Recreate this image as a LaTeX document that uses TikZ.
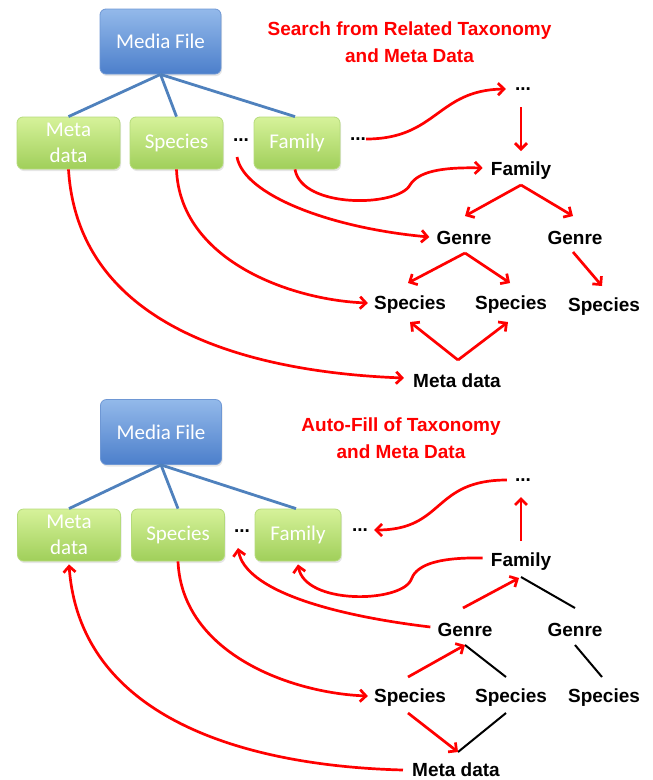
\documentclass[tikz,border=0pt]{standalone}
\usepackage{fontspec}
\setmainfont{Liberation Sans}
\newfontfamily\boxfont{Carlito}
\usetikzlibrary{arrows.meta,calc,shadows}
\definecolor{redc}{HTML}{FF0000}
\definecolor{blueT}{HTML}{93B9EA}
\definecolor{blueBot}{HTML}{4C7FCB}
\definecolor{blueB}{HTML}{6E97D4}
\definecolor{greenT}{HTML}{D6F29A}
\definecolor{greenBot}{HTML}{A0CF5A}
\definecolor{greenB}{HTML}{B5DB7B}
\definecolor{blueL}{HTML}{4F81BD}
\tikzset{
  boxbase/.style={rounded corners=6pt, text=white, font=\boxfont\fontsize{21}{26}\selectfont,
    align=center, inner sep=0pt,
    drop shadow={shadow xshift=1pt,shadow yshift=-2pt,opacity=0.2}},
  bluebox/.style={boxbase, draw=blueB, top color=blueT, bottom color=blueBot, line width=0.8pt,
    minimum width=121pt, minimum height=65pt},
  greenbox/.style={boxbase, draw=greenB, top color=greenT, bottom color=greenBot, line width=0.8pt,
    minimum height=52pt},
  lbl/.style={font=\bfseries\fontsize{19}{22}\selectfont, inner sep=0pt},
  dotlbl/.style={font=\bfseries\fontsize{19}{22}\selectfont, inner sep=0pt},
  ttl/.style={text=redc, font=\bfseries\fontsize{19}{27}\selectfont, align=center, inner sep=0pt},
  rarr/.style={draw=redc, line width=2.7pt, -{Straight Barb[length=6pt,width=12pt]}},
  bline/.style={draw=black, line width=2pt},
  blueline/.style={draw=blueL, line width=2.8pt},
}
\begin{document}
\begin{tikzpicture}[x=1pt,y=-1pt]
\useasboundingbox (0,0) rectangle (653,780);
%%%%%%%%%%%%%%%% TOP HALF
\node[bluebox] (mf1) at (160.5,41.5) {Media File};
\node[greenbox, minimum width=103pt] (md1) at (68.5,143) {Meta\\data};
\node[greenbox, minimum width=93pt] (sp1) at (176.5,143) {Species};
\node[greenbox, minimum width=86pt] (fa1) at (297,143) {Family};
\node[dotlbl] (dA1) at (241,140) {...};
\node[dotlbl] (dB1) at (358,139) {...};
\draw[blueline] (mf1.south) -- (md1.north);
\draw[blueline] (mf1.south) -- (sp1.north);
\draw[blueline] (mf1.south) -- ($(fa1.north)+(-2,0)$);
\node[ttl] (t1) at (409.5,42) {Search from Related Taxonomy\\and Meta Data};
\node[dotlbl] (rD1) at (523,89) {...};
\node[lbl] (rF1) at (521,171) {Family};
\node[lbl] (rGL1) at (464,238) {Genre};
\node[lbl] (rGR1) at (575,238) {Genre};
\node[lbl] (rSa1) at (410,305) {Species};
\node[lbl] (rSb1) at (511,305) {Species};
\node[lbl] (rSc1) at (604,307) {Species};
\node[lbl] (rM1) at (457,381) {Meta data};
% curves
\draw[rarr] (dB1.east) .. controls (437,139) and (437,90) .. ($(rD1.west)+(-9,0)$);
\draw[rarr] ($(fa1.south)+(-2,0)$) .. controls (302,209) and (398,207) .. (410,185)
   .. controls (418,172) and (440,167) .. ($(rF1.west)+(-8,-3)$);
\draw[rarr] ($(dA1)+(-4,17)$) .. controls (244,195) and (330,228) .. ($(rGL1.west)+(-7,-1)$);
\draw[rarr] (sp1.south) .. controls (180,260) and (290,300) .. ($(rSa1.west)+(-6,-2)$);
\draw[rarr] (md1.south) .. controls (78,325) and (245,372) .. ($(rM1.west)+(-9,-3)$);
% tree arrows
\draw[rarr] ($(rD1)+(-2,18)$) -- ($(rF1)+(0,-20)$);
\draw[rarr] ($(rF1)+(0,14)$) -- ($(rGL1)+(1,-22)$);
\draw[rarr] ($(rF1)+(0,14)$) -- ($(rGR1)+(-2,-22)$);
\draw[rarr] ($(rGL1)+(1,15)$) -- ($(rSa1)+(-2,-22)$);
\draw[rarr] ($(rGL1)+(1,15)$) -- ($(rSb1)+(-1,-22)$);
\draw[rarr] ($(rGR1)+(-2,14)$) -- ($(rSc1)+(-2,-21)$);
\draw[rarr] ($(rM1)+(1,-21)$) -- ($(rSa1)+(0,17)$);
\draw[rarr] ($(rM1)+(1,-21)$) -- ($(rSb1)+(-3,17)$);
%%%%%%%%%%%%%%%% BOTTOM HALF
\node[bluebox] (mf2) at (161,432) {Media File};
\node[greenbox, minimum width=103pt] (md2) at (69,535) {Meta\\data};
\node[greenbox, minimum width=93pt] (sp2) at (178,535) {Species};
\node[greenbox, minimum width=86pt] (fa2) at (298,535) {Family};
\node[dotlbl] (dA2) at (242,531) {...};
\node[dotlbl] (dB2) at (360,530) {...};
\draw[blueline] (mf2.south) -- (md2.north);
\draw[blueline] (mf2.south) -- (sp2.north);
\draw[blueline] (mf2.south) -- ($(fa2.north)+(-2,0)$);
\node[ttl] (t2) at (401,438.5) {Auto-Fill of Taxonomy\\and Meta Data};
\node[dotlbl] (rD2) at (523,480) {...};
\node[lbl] (rF2) at (521,562) {Family};
\node[lbl] (rGL2) at (465,630) {Genre};
\node[lbl] (rGR2) at (575,630) {Genre};
\node[lbl] (rSa2) at (410,698) {Species};
\node[lbl] (rSb2) at (511,698) {Species};
\node[lbl] (rSc2) at (604,698) {Species};
\node[lbl] (rM2) at (456,770) {Meta data};
% curves
\draw[rarr] ($(rD2.west)+(-8,0)$) .. controls (432,480) and (445,530) .. ($(dB2.east)+(6,0)$);
\draw[rarr] ($(rF2.west)+(-8,-4)$) .. controls (430,557) and (415,568) .. (411,580)
   .. controls (400,603) and (305,605) .. ($(fa2.south)+(0,3)$);
\draw[rarr] ($(rGL2.west)+(-7,-3)$) .. controls (330,615) and (245,590) .. ($(dA2)+(-4,17)$);
\draw[rarr] (sp2.south) .. controls (182,653) and (290,693) .. ($(rSa2.west)+(-6,-2)$);
\draw[rarr] ($(rM2.west)+(-9,0)$) .. controls (245,766) and (80,718) .. ($(md2.south)+(0,3)$);
% tree
\draw[rarr] ($(rF2)+(0,-21)$) -- ($(rD2)+(-2,17)$);
\draw[bline] ($(rF2)+(0,15)$) -- ($(rGR2)+(0,-22)$);
\draw[rarr] ($(rGL2)+(-2,-22)$) -- ($(rF2)+(-2,16)$);
\draw[bline] ($(rGL2)+(0,15)$) -- ($(rSb2)+(-5,-21)$);
\draw[rarr] ($(rSa2)+(-2,-21)$) -- ($(rGL2)+(0,15)$);
\draw[bline] ($(rGR2)+(0,15)$) -- ($(rSc2)+(-2,-21)$);
\draw[bline] ($(rSb2)+(-5,15)$) -- ($(rM2)+(2,-18)$);
\draw[rarr] ($(rSa2)+(-2,15)$) -- ($(rM2)+(2,-18)$);
\end{tikzpicture}
\end{document}
